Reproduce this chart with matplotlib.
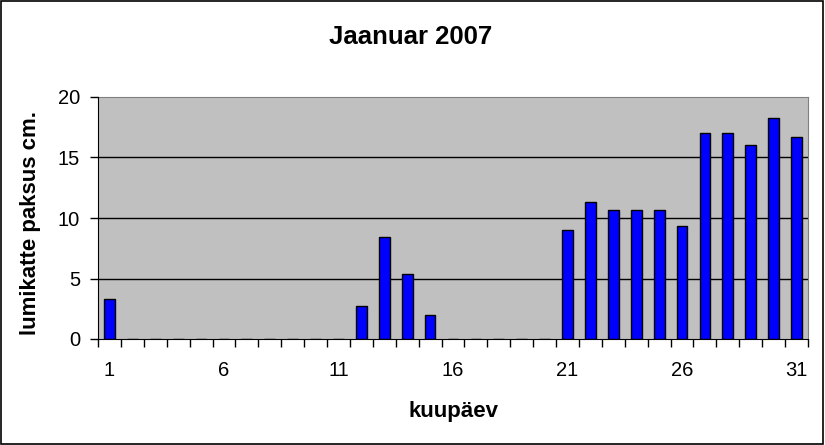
import matplotlib.pyplot as plt
from matplotlib.patches import Rectangle

days = list(range(1, 32))
snow = [3.3, 0, 0, 0, 0, 0, 0, 0, 0, 0, 0, 2.7, 8.4, 5.4, 2.0,
        0, 0, 0, 0, 0, 9.0, 11.3, 10.7, 10.7, 10.7, 9.3, 17.0, 17.0, 16.0, 18.3, 16.7]
xtick_labels = ['1', '6', '11', '16', '21', '26', '31']
yticks = [0, 5, 10, 15, 20]

plt.rcParams['font.family'] = ['Liberation Sans', 'DejaVu Sans']

fig = plt.figure(figsize=(8.25, 4.45), dpi=100)
ax = fig.add_axes([98 / 825, 1 - 339 / 445, 710 / 825, 242 / 445])
ax.set_facecolor('#c0c0c0')

ax.bar(days, snow, width=0.47, color='#0000ff', edgecolor='black', linewidth=1, zorder=3)

ax.set_xlim(0.5, 31.5)
ax.set_ylim(0, 20)
ax.set_yticks(yticks)
for v in yticks[1:-1]:
    ax.axhline(v, color='black', linewidth=1, zorder=1)

ax.set_xticks([int(t) for t in xtick_labels])
ax.set_xticklabels(xtick_labels)
ax.set_xticks([d + 0.5 for d in range(0, 32)], minor=True)
ax.tick_params(axis='x', which='major', length=0, pad=16, labelsize=14.5)
ax.tick_params(axis='x', which='minor', length=6, width=1, color='black')
ax.tick_params(axis='y', length=6, width=1, pad=7, labelsize=14.5)

for side in ['top', 'right']:
    ax.spines[side].set_color('#808080')
for side in ['left', 'bottom']:
    ax.spines[side].set_color('black')
    ax.spines[side].set_zorder(4)

fig.text(411 / 825, 1 - 37 / 445, 'Jaanuar 2007', ha='center', va='center',
         fontsize=18.5, fontweight='bold')
fig.text(31 / 825, 1 - 223 / 445, 'lumikatte paksus cm.', ha='center', va='center',
         rotation=90, fontsize=16, fontweight='bold')
fig.text(453 / 825, 1 - 417 / 445, 'kuupäev', ha='center', va='baseline',
         fontsize=16, fontweight='bold')

fig.patches.append(Rectangle((0.001, 0.002), 0.997, 0.995, transform=fig.transFigure,
                             fill=False, edgecolor='black', linewidth=1.2))

fig.savefig('out.png', dpi=100)
